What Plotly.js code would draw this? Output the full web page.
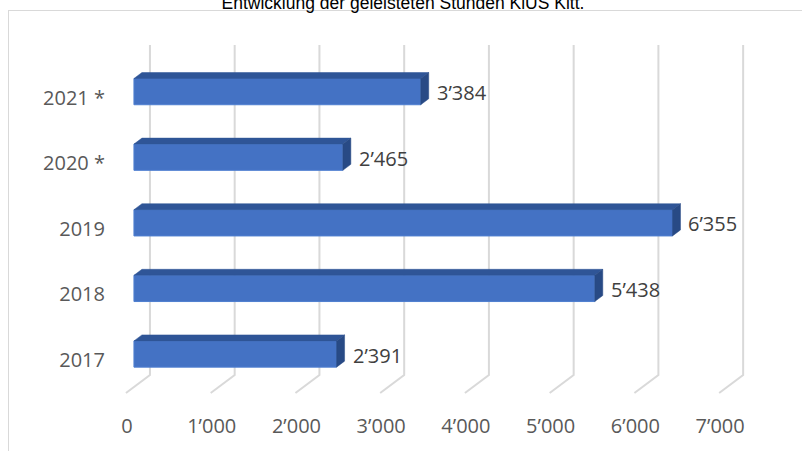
<!DOCTYPE html>
<html>
<head>
<meta charset="utf-8">
<script src="https://cdn.plot.ly/plotly-3.0.1.min.js"></script>
<style>
  html, body { margin: 0; padding: 0; background: #ffffff; }
  #frame { position: absolute; left: 8px; top: 10px; width: 900px; height: 600px; border: 1px solid #d9d9d9; box-sizing: border-box; }
  #chart { position: absolute; left: 0; top: 0; width: 802px; height: 451px; }
</style>
</head>
<body>
<div id="frame"></div>
<div id="chart"></div>
<script>
// ---- data ----
const categories = ['2017', '2018', '2019', '2020 *', '2021 *'];
const hours = [2391, 5438, 6355, 2465, 3384];
const tickValues = [0, 1000, 2000, 3000, 4000, 5000, 6000, 7000];
const chartTitle = 'Entwicklung der geleisteten Stunden KiUS Kitt.';

function fmt(n) { return String(n).replace(/\B(?=(\d{3})+(?!\d))/g, '\u2019'); }

// ---- geometry of plot area ----
const W = 802, H = 451;
const mL = 117, mR = 24, mT = 40, mB = 51;
const xRange = [-200, 7600];
const yRange = [-0.701, 4.787];
const pxX = (W - mL - mR) / (xRange[1] - xRange[0]);   // px per unit
const pxY = (H - mT - mB) / (yRange[1] - yRange[0]);   // px per category
const ux = px => px / pxX;
const uy = px => px / pxY;

// 3D depth: bar depth vector (8px right, 6px up); back wall +16px from bar front
const barDX = ux(8), barDY = uy(6);
const wallDX = ux(16);
const floorDX = ux(-8);
const gridTop = 4.71, gridBottom = -0.32;
const barW = 0.4;

const idx = categories.map((c, i) => i);

// front faces
const front = {
  type: 'bar', orientation: 'h', x: hours, y: idx, width: barW, base: 0,
  marker: { color: '#4472C4', line: { color: '#4F7FD0', width: 1 } },
  hoverinfo: 'skip'
};

// top faces & side faces
const topX = [], topY = [], sideX = [], sideY = [];
hours.forEach((v, i) => {
  const yt = i + barW / 2, yb = i - barW / 2;
  topX.push(0, barDX, v + barDX, v, 0, null);
  topY.push(yt, yt + barDY, yt + barDY, yt, yt, null);
  sideX.push(v, v, v + barDX, v + barDX, v, null);
  sideY.push(yb, yt, yt + barDY, yb + barDY, yb, null);
});
const topFace = { type: 'scatter', mode: 'lines', x: topX, y: topY, fill: 'toself',
  fillcolor: '#2F5597', line: { width: 0.5, color: '#2F5597' }, hoverinfo: 'skip' };
const sideFace = { type: 'scatter', mode: 'lines', x: sideX, y: sideY, fill: 'toself',
  fillcolor: '#284A85', line: { width: 0.5, color: '#284A85' }, hoverinfo: 'skip' };

// gridlines (back wall + floor diagonal)
const shapes = tickValues.map(v => ({
  type: 'path', layer: 'below', xref: 'x', yref: 'y',
  path: 'M' + (v + wallDX) + ',' + gridTop + ' L' + (v + wallDX) + ',' + gridBottom +
        ' L' + (v + floorDX) + ',' + (gridBottom - uy(18)),
  line: { color: '#d9d9d9', width: 2 }
}));

const annotations = hours.map((v, i) => ({
  x: v, y: i, xref: 'x', yref: 'y', text: fmt(v), showarrow: false,
  xanchor: 'left', yanchor: 'middle', xshift: 14, yshift: -1,
  font: { family: 'Open Sans', size: 20, color: '#404040' }
}));

const layout = {
  width: W, height: H,
  margin: { l: mL, r: mR, t: mT, b: mB, pad: 0 },
  paper_bgcolor: 'rgba(0,0,0,0)', plot_bgcolor: 'rgba(0,0,0,0)',
  showlegend: false,
  title: { text: chartTitle, xref: 'container', yref: 'container', x: 403 / W, xanchor: 'center',
           y: 1 - 2.5 / H, yanchor: 'middle', font: { family: 'Liberation Sans', size: 17.5, color: '#000000' } },
  xaxis: {
    range: xRange, tickvals: tickValues, ticktext: tickValues.map(fmt),
    showgrid: false, zeroline: false, showline: false, ticks: '',
    ticklabelshift: -7, ticklabelstandoff: 12,
    tickfont: { family: 'Open Sans', size: 20, color: '#595959' }, fixedrange: true
  },
  yaxis: {
    range: yRange, tickvals: idx.map(i => i - uy(6)), ticktext: categories,
    showgrid: false, zeroline: false, showline: false, ticks: '',
    ticklabelstandoff: 11,
    tickfont: { family: 'Open Sans', size: 20, color: '#595959' }, fixedrange: true
  },
  shapes: shapes,
  annotations: annotations
};

Plotly.newPlot('chart', [front, topFace, sideFace], layout, { displayModeBar: false, staticPlot: true });
</script>
</body>
</html>
